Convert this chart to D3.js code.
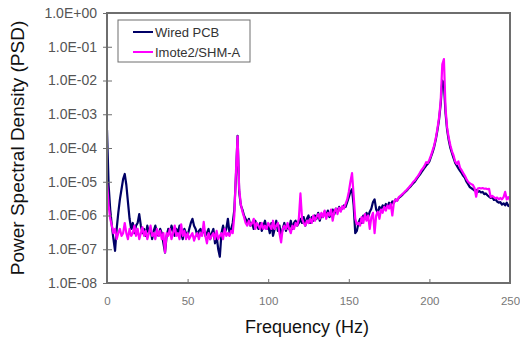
<!DOCTYPE html>
<html>
<head>
<meta charset="utf-8">
<script src="https://cdn.jsdelivr.net/npm/d3@7"></script>
<style>
  html, body { margin: 0; padding: 0; background: #fff; }
  svg { display: block; font-family: "Liberation Sans", Arial, sans-serif; }
</style>
</head>
<body>
<svg id="chart" width="520" height="342"></svg>
<script>
// ---- data (PSD, 1 Hz steps from 0 to 250 Hz) ----
const seriesNames = ["Wired PCB", "Imote2/SHM-A"];
const xTickValues = [0, 50, 100, 150, 200, 250];
const yTickValues = [1e-8, 1e-7, 1e-6, 1e-5, 1e-4, 1e-3, 1e-2, 1e-1, 1];
const yTickLabels = ["1.0E-08", "1.0E-07", "1.0E-06", "1.0E-05", "1.0E-04", "1.0E-03", "1.0E-02", "1.0E-01", "1.0E+00"];

const wiredPCB = [
  3.4e-4, 8e-6, 1.5e-6, 5e-7, 2e-7, 9e-8, 4e-7, 1.2e-6, 3e-6, 6e-6,
  1.2e-5, 1.7e-5, 8e-6, 2.5e-6, 8e-7, 4e-7, 6e-7, 3e-7, 5e-7, 6e-7,
  1.1e-6, 5e-7, 3e-7, 4e-7, 2.5e-7, 5e-7, 3e-7, 4e-7, 2e-7, 3.5e-7,
  5e-7, 3e-7, 2.5e-7, 4e-7, 3e-7, 1.5e-7, 8e-8, 2.5e-7, 4e-7, 3e-7,
  5e-7, 3.5e-7, 2.5e-7, 4e-7, 3e-7, 5e-7, 3e-7, 2e-7, 4e-7, 3e-7,
  2.5e-7, 4e-7, 6e-7, 8e-7, 5e-7, 4e-7, 2.5e-7, 3.5e-7, 4e-7, 3e-7,
  4e-7, 2.5e-7, 3e-7, 4e-7, 2e-7, 3e-7, 4e-7, 1.5e-7, 2.5e-7, 1e-7,
  6e-8, 3e-7, 5e-7, 3e-7, 4e-7, 8e-7, 3e-7, 4e-7, 6e-7, 1.5e-6,
  1.5e-5, 2.3e-4, 5e-6, 2e-6, 1.5e-6, 1e-6, 8e-7, 6e-7, 8e-7, 5e-7,
  6e-7, 4e-7, 7e-7, 5e-7, 4e-7, 6e-7, 3.5e-7, 5e-7, 7e-7, 4e-7,
  5e-7, 3e-7, 6e-7, 2.5e-7, 4e-7, 7e-7, 3.5e-7, 5e-7, 2.5e-7, 4e-7,
  6e-7, 3.5e-7, 5e-7, 4e-7, 7e-7, 4e-7, 6e-7, 7e-7, 5e-7, 6e-7,
  8e-7, 6e-7, 9e-7, 5e-7, 8e-7, 1e-6, 6e-7, 9e-7, 7e-7, 1e-6,
  8e-7, 1.2e-6, 7e-7, 1.1e-6, 9e-7, 1.3e-6, 1e-6, 1.4e-6, 9e-7, 1.2e-6,
  1.5e-6, 1.1e-6, 1.6e-6, 1.3e-6, 1.8e-6, 1.4e-6, 1.7e-6, 2e-6, 1.8e-6, 2.5e-6,
  3.5e-6, 5e-6, 6e-6, 2e-6, 3e-7, 3.5e-7, 6e-7, 8e-7, 6e-7, 1e-6,
  8e-7, 1.2e-6, 9e-7, 1.3e-6, 1.6e-6, 2.5e-6, 3e-6, 1.5e-6, 1.2e-6, 1.8e-6,
  1.5e-6, 2e-6, 1.7e-6, 2.2e-6, 1.8e-6, 2.4e-6, 2e-6, 2.6e-6, 2.4e-6, 3e-6,
  2.8e-6, 3.3e-6, 3.6e-6, 4e-6, 4.5e-6, 5e-6, 5.5e-6, 6.3e-6, 7e-6, 8e-6,
  9e-6, 1e-5, 1.2e-5, 1.4e-5, 1.6e-5, 1.9e-5, 2.2e-5, 2.6e-5, 3e-5, 3.4e-5,
  4e-5, 5.5e-5, 7.5e-5, 1.1e-4, 1.8e-4, 3.4e-4, 7e-4, 2e-3, 1e-2, 8e-3,
  1.1e-3, 3.4e-4, 1.7e-4, 1e-4, 7e-5, 5e-5, 3.6e-5, 3e-5, 2.5e-5, 2.1e-5,
  1.8e-5, 1.5e-5, 1.3e-5, 1e-5, 8.5e-6, 7e-6, 6.5e-6, 6e-6, 5.5e-6, 5.7e-6,
  5e-6, 5.3e-6, 4.8e-6, 5e-6, 4.3e-6, 4.5e-6, 4e-6, 3.6e-6, 3.3e-6, 3.5e-6,
  2.9e-6, 3e-6, 2.6e-6, 2.4e-6, 2.5e-6, 2.1e-6, 2.3e-6, 2e-6, 2.4e-6, 1.9e-6,
  2e-6
];

const imote2SHM = [
  1e-5, 2e-6, 8e-7, 5e-7, 3e-7, 4e-7, 2e-7, 3e-7, 4e-7, 2.5e-7,
  3e-7, 6e-7, 3e-7, 2e-7, 4e-7, 2.5e-7, 3e-7, 5e-7, 2.5e-7, 4e-7,
  2e-7, 3e-7, 4.5e-7, 2.5e-7, 3.5e-7, 2e-7, 3e-7, 5e-7, 2.5e-7, 3e-7,
  2e-7, 4e-7, 2.5e-7, 3.5e-7, 2e-7, 3e-7, 8e-8, 3e-7, 2.5e-7, 4e-7,
  2e-7, 3e-7, 5e-7, 2.5e-7, 3e-7, 2e-7, 5.5e-7, 2.5e-7, 3.5e-7, 2e-7,
  3e-7, 2e-7, 2.5e-7, 3e-7, 1.8e-7, 2.5e-7, 3e-7, 2e-7, 3e-7, 2.5e-7,
  6.5e-7, 2.5e-7, 1.5e-7, 3e-7, 2e-7, 2.5e-7, 3e-7, 2e-7, 3.5e-7, 2e-7,
  2.5e-7, 3e-7, 2e-7, 4e-7, 2.5e-7, 3e-7, 2.5e-7, 3.5e-7, 3e-7, 1e-6,
  2e-5, 2.2e-4, 6e-6, 2.2e-6, 1.3e-6, 9e-7, 6e-7, 5e-7, 7e-7, 5e-7,
  6e-7, 8e-7, 4e-7, 6e-7, 5e-7, 4e-7, 6e-7, 4e-7, 5e-7, 4e-7,
  6e-7, 5e-7, 4e-7, 7e-7, 4e-7, 5e-7, 6e-7, 3e-7, 1.6e-7, 4e-7,
  5e-7, 4e-7, 6e-7, 4e-7, 3e-7, 5e-7, 4e-7, 6e-7, 5e-7, 8e-7,
  4.5e-6, 8e-7, 6e-7, 5e-7, 7e-7, 6e-7, 8e-7, 6e-7, 1e-6, 7e-7,
  9e-7, 1.1e-6, 8e-7, 1.2e-6, 9e-7, 1.4e-6, 8e-7, 1.2e-6, 1e-6, 1.5e-6,
  7e-7, 1.3e-6, 1.6e-6, 1.1e-6, 1.7e-6, 1.3e-6, 1.9e-6, 1.6e-6, 2.2e-6, 3e-6,
  5e-6, 1e-5, 1.8e-5, 4e-6, 8e-7, 5.5e-7, 6e-7, 5e-7, 9e-7, 6e-7,
  1.1e-6, 7e-7, 1e-6, 4e-7, 9e-7, 1.2e-6, 3e-7, 1e-6, 1.3e-6, 8e-7,
  1.5e-6, 1.2e-6, 1.8e-6, 1.4e-6, 2e-6, 1.6e-6, 2.2e-6, 1e-6, 2.5e-6, 3e-6,
  2.7e-6, 3.5e-6, 3.8e-6, 4.2e-6, 4.6e-6, 5.2e-6, 5.8e-6, 6.5e-6, 7.5e-6, 8.5e-6,
  1e-5, 1.1e-5, 1.3e-5, 1.5e-5, 1.8e-5, 2.2e-5, 2.5e-5, 3e-5, 3.8e-5, 3.6e-5,
  4.5e-5, 6e-5, 8.5e-5, 1.2e-4, 2e-4, 3.8e-4, 8e-4, 2.5e-3, 3e-2, 4.3e-2,
  1.5e-3, 4e-4, 2e-4, 1.2e-4, 8e-5, 6e-5, 4e-5, 3.4e-5, 4e-5, 2.6e-5,
  2.2e-5, 1.8e-5, 1.5e-5, 1.2e-5, 1e-5, 9e-6, 8.5e-6, 8e-6, 6.5e-6, 3.6e-6,
  6.3e-6, 6.5e-6, 6.3e-6, 6.5e-6, 6.2e-6, 6.3e-6, 6e-6, 6.2e-6, 3.5e-6, 3.8e-6,
  3.5e-6, 3.2e-6, 3.4e-6, 3e-6, 3.3e-6, 3e-6, 3.5e-6, 5e-6, 3e-6, 3.5e-6,
  2.8e-6
];

const seriesColors = ["#000066", "#ff00ff"];
const frequencies = d3.range(0, wiredPCB.length); // 1 Hz grid

// ---- layout ----
const svg = d3.select("#chart");
const plot = { left: 107, right: 510, top: 13, bottom: 283 };

const x = d3.scaleLinear().domain([0, 250]).range([plot.left, plot.right]);
const y = d3.scaleLog().domain([1e-8, 1]).range([plot.bottom, plot.top]);

svg.append("defs").append("clipPath").attr("id", "clip")
  .append("rect")
  .attr("x", plot.left).attr("y", plot.top)
  .attr("width", plot.right - plot.left).attr("height", plot.bottom - plot.top);

const line = d3.line()
  .x((d, i) => x(frequencies[i]))
  .y(d => y(d));

const allSeries = [wiredPCB, imote2SHM];
svg.append("g").attr("clip-path", "url(#clip)")
  .selectAll("path")
  .data(allSeries)
  .join("path")
  .attr("d", d => line(d))
  .attr("fill", "none")
  .attr("stroke", (d, i) => seriesColors[i])
  .attr("stroke-width", 2.2)
  .attr("stroke-linejoin", "round");

// frame
svg.append("rect")
  .attr("x", plot.left).attr("y", plot.top)
  .attr("width", plot.right - plot.left).attr("height", plot.bottom - plot.top)
  .attr("fill", "none").attr("stroke", "#6e6e6e").attr("stroke-width", 2);

// y axis
const yAxis = d3.axisLeft(y)
  .tickValues(yTickValues)
  .tickFormat((d, i) => yTickLabels[i])
  .tickSizeInner(-5)
  .tickSizeOuter(0)
  .tickPadding(10);
const gy = svg.append("g").attr("transform", `translate(${plot.left},0)`).call(yAxis);
gy.select(".domain").remove();
gy.selectAll(".tick line").attr("stroke", "#6e6e6e").attr("x1", -4).attr("x2", 5);
gy.selectAll(".tick text")
  .attr("font-family", "'Liberation Sans', Arial, sans-serif")
  .attr("font-size", 14).attr("fill", "#555");

// x axis
const xAxis = d3.axisBottom(x)
  .tickValues(xTickValues)
  .tickSizeInner(-4)
  .tickSizeOuter(0)
  .tickPadding(14);
const gx = svg.append("g").attr("transform", `translate(0,${plot.bottom})`).call(xAxis);
gx.select(".domain").remove();
gx.selectAll(".tick line").attr("stroke", "#6e6e6e");
gx.selectAll(".tick text")
  .attr("font-family", "'Liberation Sans', Arial, sans-serif")
  .attr("font-size", 11.5).attr("fill", "#777");

// axis titles
svg.append("text")
  .attr("x", 307).attr("y", 333)
  .attr("text-anchor", "middle")
  .attr("font-size", 18).attr("fill", "#111")
  .text("Frequency (Hz)");

svg.append("text")
  .attr("transform", "translate(24,148) rotate(-90)")
  .attr("text-anchor", "middle")
  .attr("font-size", 19).attr("fill", "#111")
  .text("Power Spectral Density (PSD)");

// legend
const legend = svg.append("g");
legend.append("rect")
  .attr("x", 118).attr("y", 20).attr("width", 132).attr("height", 42)
  .attr("fill", "#fff").attr("stroke", "#6e6e6e").attr("stroke-width", 1);
const items = legend.selectAll("g.item").data(seriesNames).join("g")
  .attr("class", "item")
  .attr("transform", (d, i) => `translate(0,${32 + i * 20})`);
items.append("line")
  .attr("x1", 133).attr("x2", 153).attr("y1", 0).attr("y2", 0)
  .attr("stroke", (d, i) => seriesColors[i]).attr("stroke-width", 2);
items.append("text")
  .attr("x", 155).attr("y", 5)
  .attr("font-size", 13).attr("fill", "#333")
  .text(d => d);
</script>
</body>
</html>
